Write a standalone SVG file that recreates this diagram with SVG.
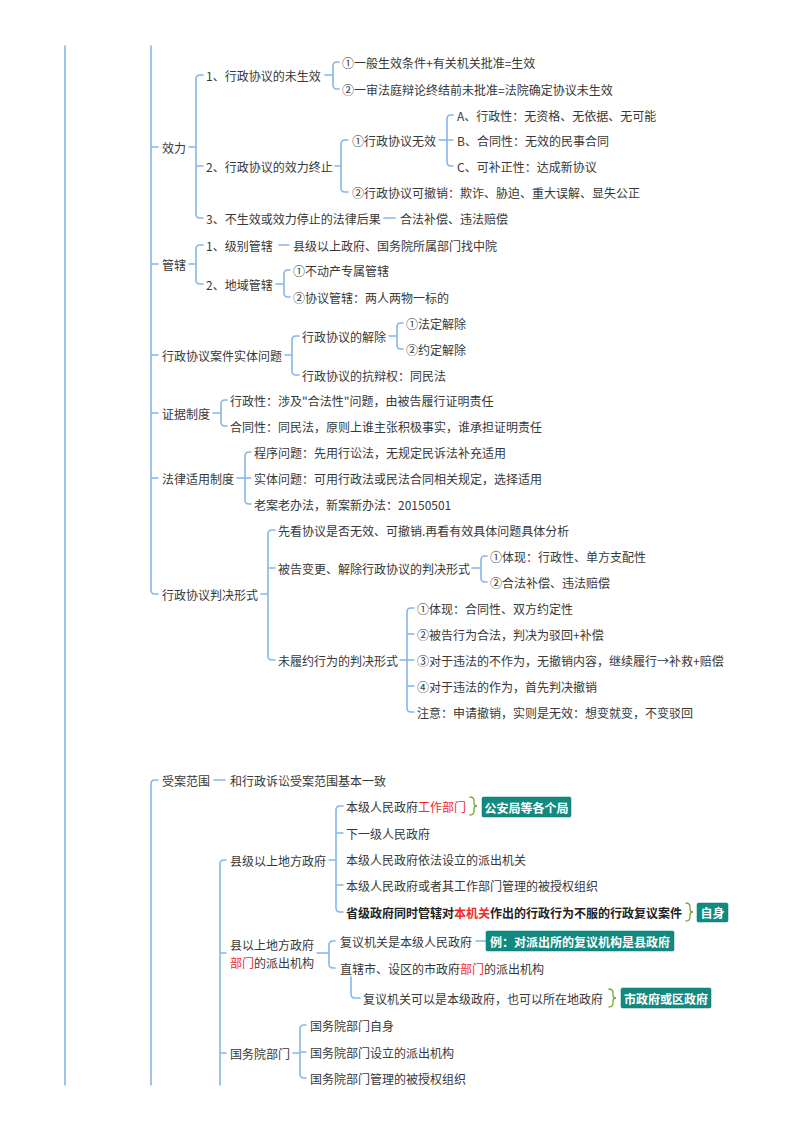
<svg xmlns="http://www.w3.org/2000/svg" width="800" height="1132" viewBox="0 0 800 1132">
<style>
text{font-family:"Noto Sans CJK SC","Microsoft YaHei","Liberation Sans",sans-serif;font-size:12px;fill:#383838;dominant-baseline:central}
.r{fill:#f02a2a}
.b{font-weight:bold;fill:#222}
.tag{font-weight:bold;fill:#ffffff}
.box{fill:#138a80;stroke:#0f766e;stroke-width:0.5}
.ln{fill:none;stroke:#86b7e8;stroke-width:1.6;stroke-linecap:round;stroke-linejoin:round}
.br{fill:none;stroke:#7fa33a;stroke-width:1.3;stroke-linecap:round}
</style>
<rect width="800" height="1132" fill="#ffffff"/>
<g id="connectors" class="ln">
<path d="M65 46V1085"/>
<path d="M151 46V590Q151 594 155 594H158M151 147H158M151 264H158M151 355H158M151 413H158M151 478H158"/>
<path d="M158 780H155Q151 780 151 784V1085"/>
<path d="M226 860H224Q220 860 220 864V1085M220 953H226M220 1053H226"/>
<!-- 效力 -->
<path d="M189 147H196M203 75H200Q196 75 196 79V214Q196 218 200 218H203M196 166H203"/>
<path d="M325 75H333M339 62H337Q333 62 333 66V85Q333 89 337 89H339"/>
<path d="M335 166H341M348 140H345Q341 140 341 144V188Q341 192 345 192H348"/>
<path d="M439 140H453M453 115H451Q447 115 447 119V162Q447 166 451 166H453"/>
<path d="M384 218H395"/>
<!-- 管辖 -->
<path d="M189 264H196M203 245H200Q196 245 196 249V280Q196 284 200 284H203"/>
<path d="M279 245H289"/>
<path d="M276 284H284M290 270H288Q284 270 284 274V293Q284 297 288 297H290"/>
<!-- 实体问题 -->
<path d="M285 355H292M299 336H296Q292 336 292 340V371Q292 375 296 375H299"/>
<path d="M389 336H397M403 323H401Q397 323 397 327V345Q397 349 401 349H403"/>
<!-- 证据制度 -->
<path d="M213 413H221M227 400H225Q221 400 221 404V422Q221 426 225 426H227"/>
<!-- 法律适用制度 -->
<path d="M237 478H251M251 452H249Q245 452 245 456V500Q245 504 249 504H251"/>
<!-- 判决形式 -->
<path d="M261 594H268M275 530H272Q268 530 268 534V656Q268 660 272 660H275M268 568H275"/>
<path d="M472 568H481M487 556H485Q481 556 481 560V578Q481 582 485 582H487"/>
<path d="M400 660H414M414 608H411Q407 608 407 612V708Q407 712 411 712H414M407 634H414M407 686H414"/>
<!-- 受案范围 -->
<path d="M214 780H225"/>
<path d="M329 860H336M343 806H340Q336 806 336 810V908Q336 912 340 912H343M336 833H343M336 885H343"/>
<path d="M317 953H329M335 941H333Q329 941 329 945V964Q329 968 333 968H335"/>
<path d="M476 941H486"/>
<path d="M351 977V994Q351 998 355 998H360"/>
<path d="M293 1053H300M306 1025H304Q300 1025 300 1029V1074Q300 1078 304 1078H306M300 1052H306"/>
</g>
<g id="n-xiaoli"><text x="162" y="147">效力</text></g>
<g id="n-1"><text x="206" y="75">1、行政协议的未生效</text></g>
<g id="n-1a"><text x="342" y="62">①一般生效条件+有关机关批准=生效</text></g>
<g id="n-1b"><text x="342" y="89">②一审法庭辩论终结前未批准=法院确定协议未生效</text></g>
<g id="n-2"><text x="206" y="166">2、行政协议的效力终止</text></g>
<g id="n-2a"><text x="352" y="140">①行政协议无效</text></g>
<g id="n-2aA"><text x="457" y="115">A、行政性：无资格、无依据、无可能</text></g>
<g id="n-2aB"><text x="457" y="140">B、合同性：无效的民事合同</text></g>
<g id="n-2aC"><text x="457" y="166">C、可补正性：达成新协议</text></g>
<g id="n-2b"><text x="352" y="192">②行政协议可撤销：欺诈、胁迫、重大误解、显失公正</text></g>
<g id="n-3"><text x="206" y="218">3、不生效或效力停止的法律后果</text></g>
<g id="n-3a"><text x="400" y="218">合法补偿、违法赔偿</text></g>
<g id="n-guanxia"><text x="162" y="264">管辖</text></g>
<g id="n-g1"><text x="206" y="245">1、级别管辖</text></g>
<g id="n-g1a"><text x="293" y="245">县级以上政府、国务院所属部门找中院</text></g>
<g id="n-g2"><text x="206" y="284">2、地域管辖</text></g>
<g id="n-g2a"><text x="293" y="270">①不动产专属管辖</text></g>
<g id="n-g2b"><text x="293" y="297">②协议管辖：两人两物一标的</text></g>
<g id="n-shiti"><text x="162" y="355">行政协议案件实体问题</text></g>
<g id="n-jiechu"><text x="302" y="336">行政协议的解除</text></g>
<g id="n-jiechu1"><text x="406" y="323">①法定解除</text></g>
<g id="n-jiechu2"><text x="406" y="349">②约定解除</text></g>
<g id="n-kangbian"><text x="302" y="375">行政协议的抗辩权：同民法</text></g>
<g id="n-zhengju"><text x="162" y="413">证据制度</text></g>
<g id="n-zj1"><text x="230" y="400">行政性：涉及"合法性"问题，由被告履行证明责任</text></g>
<g id="n-zj2"><text x="230" y="426">合同性：同民法，原则上谁主张积极事实，谁承担证明责任</text></g>
<g id="n-falv"><text x="162" y="478">法律适用制度</text></g>
<g id="n-fl1"><text x="254" y="452">程序问题：先用行讼法，无规定民诉法补充适用</text></g>
<g id="n-fl2"><text x="254" y="478">实体问题：可用行政法或民法合同相关规定，选择适用</text></g>
<g id="n-fl3"><text x="254" y="504">老案老办法，新案新办法：20150501</text></g>
<g id="n-panjue"><text x="162" y="594">行政协议判决形式</text></g>
<g id="n-pj1"><text x="278" y="530">先看协议是否无效、可撤销.再看有效具体问题具体分析</text></g>
<g id="n-pj2"><text x="278" y="568">被告变更、解除行政协议的判决形式</text></g>
<g id="n-pj2a"><text x="490" y="556">①体现：行政性、单方支配性</text></g>
<g id="n-pj2b"><text x="490" y="582">②合法补偿、违法赔偿</text></g>
<g id="n-pj3"><text x="278" y="660">未履约行为的判决形式</text></g>
<g id="n-pj3a"><text x="417" y="608">①体现：合同性、双方约定性</text></g>
<g id="n-pj3b"><text x="417" y="634">②被告行为合法，判决为驳回+补偿</text></g>
<g id="n-pj3c"><text x="417" y="660">③对于违法的不作为，无撤销内容，继续履行→补救+赔偿</text></g>
<g id="n-pj3d"><text x="417" y="686">④对于违法的作为，首先判决撤销</text></g>
<g id="n-pj3e"><text x="417" y="712">注意：申请撤销，实则是无效：想变就变，不变驳回</text></g>
<g id="n-shouan"><text x="162" y="780">受案范围</text></g>
<g id="n-shouan1"><text x="230" y="780">和行政诉讼受案范围基本一致</text></g>
<g id="n-xianji"><text x="230" y="860">县级以上地方政府</text></g>
<g id="n-xj1"><text x="346" y="806">本级人民政府<tspan class="r">工作部门</tspan></text>
<path class="br" d="M470 797Q474 797 474 801V803Q474 806 477 806Q474 806 474 809V811Q474 815 470 815"/>
<rect class="box" x="482" y="797" width="89" height="20" rx="1.5"/><text class="tag" x="526.5" y="807" text-anchor="middle">公安局等各个局</text></g>
<g id="n-xj2"><text x="346" y="833">下一级人民政府</text></g>
<g id="n-xj3"><text x="346" y="859">本级人民政府依法设立的派出机关</text></g>
<g id="n-xj4"><text x="346" y="885">本级人民政府或者其工作部门管理的被授权组织</text></g>
<g id="n-xj5"><text class="b" x="346" y="912">省级政府同时管辖对<tspan class="r">本机关</tspan>作出的行政行为不服的行政复议案件</text>
<path class="br" d="M686 903Q690 903 690 907V909Q690 912 693 912Q690 912 690 915V917Q690 921 686 921"/>
<rect class="box" x="697" y="903" width="31" height="19" rx="1.5"/><text class="tag" x="712.5" y="912.5" text-anchor="middle">自身</text></g>
<g id="n-bumen"><text x="230" y="944">县以上地方政府</text><text x="230" y="962"><tspan class="r">部门</tspan>的派出机构</text></g>
<g id="n-bm1"><text x="340" y="941">复议机关是本级人民政府</text>
<rect class="box" x="486" y="931" width="188" height="20" rx="1.5"/><text class="tag" x="580" y="941" text-anchor="middle">例：对派出所的复议机构是县政府</text></g>
<g id="n-bm2"><text x="340" y="968">直辖市、设区的市政府<tspan class="r">部门</tspan>的派出机构</text></g>
<g id="n-bm2a"><text x="363" y="998">复议机关可以是本级政府，也可以所在地政府</text>
<path class="br" d="M609 989Q613 989 613 993V995Q613 998 616 998Q613 998 613 1001V1003Q613 1007 609 1007"/>
<rect class="box" x="621" y="988" width="90" height="20" rx="1.5"/><text class="tag" x="666" y="998" text-anchor="middle">市政府或区政府</text></g>
<g id="n-guowu"><text x="230" y="1053">国务院部门</text></g>
<g id="n-gw1"><text x="310" y="1025">国务院部门自身</text></g>
<g id="n-gw2"><text x="310" y="1052">国务院部门设立的派出机构</text></g>
<g id="n-gw3"><text x="310" y="1078">国务院部门管理的被授权组织</text></g>
</svg>
